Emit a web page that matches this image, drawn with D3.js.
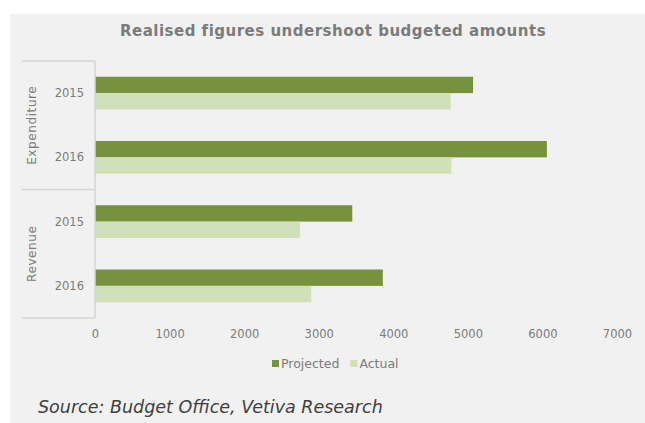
<!DOCTYPE html>
<html>
<head>
<meta charset="utf-8">
<script src="https://cdn.jsdelivr.net/npm/d3@7"></script>
<style>
  body { margin: 0; background: #fff; }
  svg { display: block; }
</style>
</head>
<body>
<svg id="chart" width="645" height="423"></svg>
<script>
// data
var groups = ["Expenditure", "Revenue"];
var years = ["2015", "2016"];
var seriesNames = ["Projected", "Actual"];
var projected = [5070, 6060, 3450, 3860];
var actual = [4770, 4780, 2750, 2900];
var xTicks = [0, 1000, 2000, 3000, 4000, 5000, 6000, 7000];

var colors = { Projected: "#76923c", Actual: "#d0e1ba" };
var font = "'DejaVu Sans', Verdana, sans-serif";

var svg = d3.select("#chart");

svg.append("rect")
  .attr("x", 10).attr("y", 14)
  .attr("width", 635).attr("height", 409)
  .attr("fill", "#f1f1f1");

svg.append("text")
  .attr("x", 333).attr("y", 36)
  .attr("text-anchor", "middle")
  .attr("font-family", font)
  .attr("font-size", 15)
  .attr("font-weight", "bold")
  .attr("letter-spacing", 0.5)
  .attr("fill", "#7b7b7b")
  .text("Realised figures undershoot budgeted amounts");

// one row per group/year pair
var rows = [];
groups.forEach(function(g, gi) {
  years.forEach(function(y, yi) {
    var i = gi * years.length + yi;
    rows.push({ key: g + "-" + y, group: g, year: y, Projected: projected[i], Actual: actual[i] });
  });
});

var x = d3.scaleLinear().domain([0, 7000]).range([95, 617]);
var y = d3.scaleBand().domain(rows.map(function(d) { return d.key; }))
  .range([61, 318]).paddingInner(0.49).paddingOuter(0.245);
var inner = d3.scaleBand().domain(seriesNames).range([0, y.bandwidth()]);

var rowG = svg.append("g").selectAll("g")
  .data(rows).enter().append("g")
  .attr("transform", function(d) { return "translate(0," + y(d.key) + ")"; });

rowG.selectAll("rect")
  .data(function(d) { return seriesNames.map(function(s) { return { s: s, v: d[s] }; }); })
  .enter().append("rect")
  .attr("x", x(0))
  .attr("y", function(d) { return inner(d.s); })
  .attr("width", function(d) { return x(d.v) - x(0); })
  .attr("height", inner.bandwidth())
  .attr("fill", function(d) { return colors[d.s]; });

// year labels
rowG.append("text")
  .attr("x", 84)
  .attr("y", y.bandwidth() / 2 + 4)
  .attr("text-anchor", "end")
  .attr("font-family", font)
  .attr("font-size", 11.5)
  .attr("fill", "#7b7b7b")
  .text(function(d) { return d.year; });

// group boxes on the left
var groupStep = (318 - 61) / groups.length;
var lineCol = "#d4d4d4";
svg.append("line")
  .attr("x1", x(0)).attr("x2", x(0))
  .attr("y1", 61).attr("y2", 318)
  .attr("stroke", lineCol).attr("stroke-width", 1.5);
d3.range(groups.length + 1).forEach(function(i) {
  svg.append("line")
    .attr("x1", 22).attr("x2", x(0))
    .attr("y1", 61 + i * groupStep).attr("y2", 61 + i * groupStep)
    .attr("stroke", lineCol).attr("stroke-width", 1.5);
});
groups.forEach(function(g, i) {
  var cy = 61 + (i + 0.5) * groupStep;
  svg.append("text")
    .attr("transform", "translate(36," + cy + ") rotate(-90)")
    .attr("text-anchor", "middle")
    .attr("font-family", font)
    .attr("font-size", 12)
    .attr("letter-spacing", 0.6)
    .attr("fill", "#7b7b7b")
    .text(g);
});

// x axis labels only
var xAxis = svg.append("g")
  .attr("transform", "translate(0,318)")
  .call(d3.axisBottom(x).tickValues(xTicks).tickFormat(d3.format("d")).tickSize(0).tickPadding(12));
xAxis.select(".domain").remove();
xAxis.selectAll("text")
  .attr("font-family", font)
  .attr("font-size", 11.5)
  .attr("fill", "#7b7b7b");

// legend
var leg = svg.append("g").attr("transform", "translate(272,365)");
var lx = 0;
seriesNames.forEach(function(s) {
  leg.append("rect").attr("x", lx).attr("y", -5).attr("width", 7).attr("height", 7).attr("fill", colors[s]);
  var t = leg.append("text")
    .attr("x", lx + 9).attr("y", 3)
    .attr("font-family", font)
    .attr("font-size", 12.5)
    .attr("fill", "#7b7b7b")
    .text(s);
  lx += 9 + t.node().getComputedTextLength() + 11;
});

svg.append("text")
  .attr("x", 38).attr("y", 413)
  .attr("font-family", font)
  .attr("font-size", 17.5)
  .attr("font-style", "italic")
  .attr("fill", "#404040")
  .text("Source: Budget Office, Vetiva Research");
</script>
</body>
</html>
